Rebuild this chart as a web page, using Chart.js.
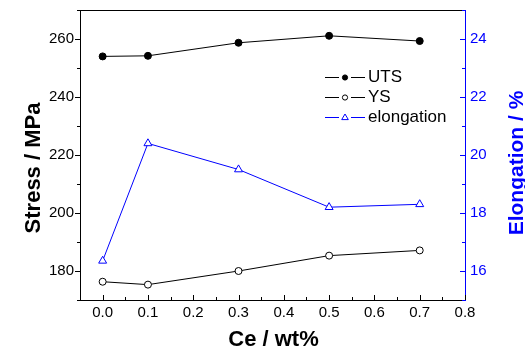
<!DOCTYPE html>
<html><head><meta charset="utf-8">
<script src="https://cdn.jsdelivr.net/npm/chart.js@4"></script>
<style>html,body{margin:0;padding:0;background:#fff}#wrap{width:525px;height:349px}</style>
</head><body><div id="wrap"><canvas id="c" width="525" height="349"></canvas></div>
<script>
const ceContent = [0.0, 0.1, 0.3, 0.5, 0.7];
const utsValues = [254.0, 254.2, 258.7, 261.1, 259.3];
const ysValues = [176.3, 175.3, 180.0, 185.3, 187.1];
const elongationValues = [16.35, 20.4, 19.5, 18.2, 18.3];
const xTickValues = [0.0, 0.1, 0.2, 0.3, 0.4, 0.5, 0.6, 0.7, 0.8];
const xMinorTicks = [0.05, 0.15, 0.25, 0.35, 0.45, 0.55, 0.65, 0.75];
const stressTicks = [180, 200, 220, 240, 260];
const stressMinor = [170, 190, 210, 230, 250, 270];
const elongTicks = [16, 18, 20, 22, 24];
const elongMinor = [15, 17, 19, 21, 23, 25];
const seriesLabels = ['UTS', 'YS', 'elongation'];
const xTitle = 'Ce / wt%';
const yTitle = 'Stress / MPa';
const y2Title = 'Elongation / %';

const FONT = '"Liberation Sans", Arial, sans-serif';
const BLUE = '#0000ff';
const pts = (vals) => vals.map((v, i) => ({x: ceContent[i], y: v}));
const zeroPad = s => { s.paddingTop = 0; s.paddingBottom = 0; s.paddingLeft = 0; s.paddingRight = 0; };

const decor = {
  id: 'decor',
  afterDraw(chart) {
    const ctx = chart.ctx;
    const {x, yL, yR} = chart.scales;
    const ca = chart.chartArea;
    ctx.save();
    ctx.lineWidth = 1;
    ctx.strokeStyle = '#000';
    ctx.beginPath();
    ctx.moveTo(ca.left, ca.top + 0.5);
    ctx.lineTo(ca.right, ca.top + 0.5);
    ctx.stroke();
    const tick = (color, list) => {
      ctx.strokeStyle = color;
      ctx.beginPath();
      list.forEach(([x1, y1, x2, y2]) => { ctx.moveTo(x1, y1); ctx.lineTo(x2, y2); });
      ctx.stroke();
    };
    const xl = [];
    xTickValues.forEach(v => { const p = Math.round(x.getPixelForValue(v)) + 0.5; xl.push([p, ca.bottom, p, ca.bottom - 5]); });
    xMinorTicks.forEach(v => { const p = Math.round(x.getPixelForValue(v)) + 0.5; xl.push([p, ca.bottom, p, ca.bottom - 3]); });
    tick('#000', xl);
    const yl = [];
    stressTicks.forEach(v => { const p = Math.round(yL.getPixelForValue(v)) + 0.5; yl.push([ca.left - 5, p, ca.left, p]); });
    stressMinor.forEach(v => { const p = Math.round(yL.getPixelForValue(v)) + 0.5; yl.push([ca.left - 3, p, ca.left, p]); });
    tick('#000', yl);
    const yr = [];
    elongTicks.forEach(v => { const p = Math.round(yR.getPixelForValue(v)) + 0.5; yr.push([ca.right - 5, p, ca.right, p]); });
    elongMinor.forEach(v => { const p = Math.round(yR.getPixelForValue(v)) + 0.5; yr.push([ca.right - 3, p, ca.right, p]); });
    tick(BLUE, yr);

    ctx.font = 'bold 22px ' + FONT;
    ctx.fillStyle = '#000';
    ctx.textAlign = 'center';
    ctx.textBaseline = 'alphabetic';
    ctx.fillText(xTitle, (ca.left + ca.right) / 2 + 1, 346);
    ctx.save();
    ctx.translate(40, 168);
    ctx.rotate(-Math.PI / 2);
    ctx.fillText(yTitle, 0, 0);
    ctx.restore();
    ctx.save();
    ctx.font = 'bold 21px ' + FONT;
    ctx.fillStyle = BLUE;
    ctx.translate(522.5, 163);
    ctx.rotate(-Math.PI / 2);
    ctx.fillText(y2Title, 0, 0);
    ctx.restore();

    const rows = [77, 97, 117];
    chart.data.datasets.forEach((ds, i) => {
      const y = rows[i] + 0.5;
      ctx.strokeStyle = ds.borderColor;
      ctx.lineWidth = 1;
      ctx.beginPath();
      ctx.moveTo(325, y); ctx.lineTo(339, y);
      ctx.moveTo(351, y); ctx.lineTo(365, y);
      ctx.stroke();
      ctx.fillStyle = ds.pointBackgroundColor;
      ctx.strokeStyle = ds.pointBorderColor;
      ctx.beginPath();
      if (ds.pointStyle === 'triangle') {
        const r = 3.5;
        ctx.moveTo(345, y - r);
        ctx.lineTo(345 + r * 0.95, y + r * 0.6);
        ctx.lineTo(345 - r * 0.95, y + r * 0.6);
        ctx.closePath();
      } else {
        ctx.arc(345, y, 2.6, 0, Math.PI * 2);
      }
      ctx.fill();
      ctx.stroke();
      ctx.fillStyle = '#000';
      ctx.font = '17px ' + FONT;
      ctx.textAlign = 'left';
      ctx.textBaseline = 'middle';
      ctx.fillText(ds.label, 368, rows[i]);
    });
    ctx.restore();
  }
};

new Chart(document.getElementById('c'), {
  type: 'line',
  data: {
    datasets: [
      {label: seriesLabels[0], data: pts(utsValues), yAxisID: 'yL', borderColor: '#000', borderWidth: 1,
       pointStyle: 'circle', pointRadius: 3.5, pointBackgroundColor: '#000', pointBorderColor: '#000', pointBorderWidth: 1},
      {label: seriesLabels[1], data: pts(ysValues), yAxisID: 'yL', borderColor: '#000', borderWidth: 1,
       pointStyle: 'circle', pointRadius: 3.5, pointBackgroundColor: '#fff', pointBorderColor: '#000', pointBorderWidth: 1},
      {label: seriesLabels[2], data: pts(elongationValues), yAxisID: 'yR', borderColor: BLUE, borderWidth: 1,
       pointStyle: 'triangle', pointRadius: 4.6, pointBackgroundColor: '#fff', pointBorderColor: BLUE, pointBorderWidth: 1}
    ]
  },
  options: {
    responsive: false,
    devicePixelRatio: 1,
    animation: false,
    layout: {padding: {top: 10, left: 0, right: 0, bottom: 0}},
    plugins: {legend: {display: false}, tooltip: {enabled: false}},
    scales: {
      x: {
        type: 'linear', min: -0.05, max: 0.8,
        afterBuildTicks: s => { s.ticks = xTickValues.map(v => ({value: v})); },
        afterFit: s => { s.height = 49; zeroPad(s); },
        grid: {display: false, drawTicks: false},
        border: {display: true, color: '#000', width: 1},
        ticks: {color: '#000', font: {family: FONT, size: 15}, padding: 4, maxRotation: 0, autoSkip: false,
                callback: v => Number(v).toFixed(1)}
      },
      yL: {
        type: 'linear', position: 'left', min: 170, max: 270,
        afterBuildTicks: s => { s.ticks = stressTicks.map(v => ({value: v})); },
        afterFit: s => { s.width = 80; zeroPad(s); },
        grid: {display: false, drawTicks: false},
        border: {display: true, color: '#000', width: 1},
        ticks: {color: '#000', font: {family: FONT, size: 15}, padding: 6}
      },
      yR: {
        type: 'linear', position: 'right', min: 15, max: 25,
        afterBuildTicks: s => { s.ticks = elongTicks.map(v => ({value: v})); },
        afterFit: s => { s.width = 60; zeroPad(s); },
        grid: {display: false, drawTicks: false},
        border: {display: true, color: BLUE, width: 1},
        ticks: {color: BLUE, font: {family: FONT, size: 15}, padding: 5}
      }
    }
  },
  plugins: [decor]
});
</script></body></html>
